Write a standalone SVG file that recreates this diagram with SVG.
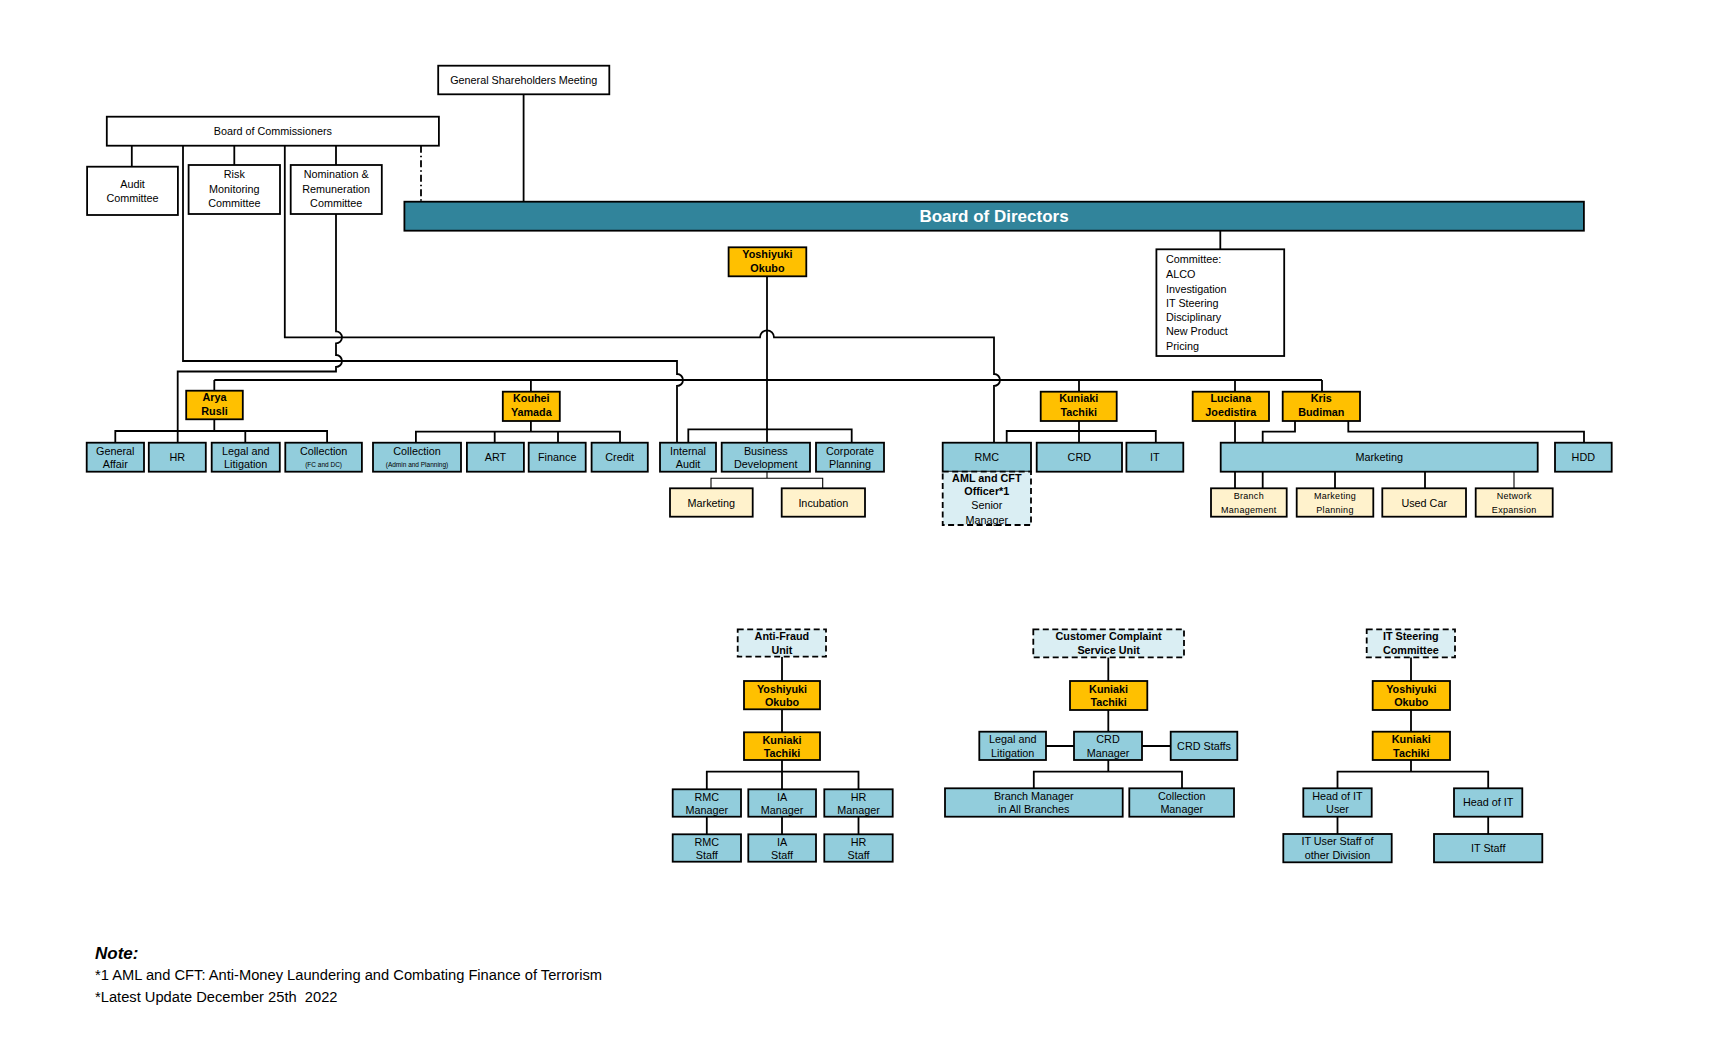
<svg xmlns="http://www.w3.org/2000/svg" width="1723" height="1039" viewBox="0 0 1723 1039">
<style>
.bx{stroke:#000;stroke-width:1.8}
.w{fill:#fff}.bl{fill:#92CDDC}.or{fill:#FFC000}.cr{fill:#FFF2CC}.bd{fill:#31849B}
.ds{fill:#DAEEF3;stroke-dasharray:6 3.5}
text{font-family:"Liberation Sans",Arial,sans-serif;font-size:10.8px;fill:#000;text-anchor:middle}
.b{font-weight:bold}
.s{font-size:9px;letter-spacing:0.3px}
.xs{font-size:6.5px}
.l{text-anchor:start}
.c path{fill:none;stroke:#000;stroke-width:1.8}
.c path.th{stroke-width:1.1}
</style>
<rect width="1723" height="1039" fill="#fff"/>

<g class="c" id="connectors">
<path d="M131.8,145.7V166.7M234.3,145.7V165M336,145.7V165"/>
<path d="M421,145.7V201.7" stroke-dasharray="7 3 1.5 3"/>
<path d="M523.6,94.3V201.7"/>
<path d="M183,145.7V361H677V374A6,6 0 0 1 677,386V442.7"/>
<path d="M284.8,145.7V337.3H760A7,7 0 0 1 774,337.3H994V374A6,6 0 0 1 994,386V442.7"/>
<path d="M336,214V331.3A6,6 0 0 1 336,343.3V355A6,6 0 0 1 336,367V371.5H177.7V442.7"/>
<path d="M214.3,380H1322"/>
<path d="M214.3,380V390.7M530.9,380V391.7M1079,380V391.7M1235,380V391.7M1322,380V391.7"/>
<path d="M767,276.3V442.7"/>
<path d="M1220.3,230.7V249.3"/>
<path d="M214.3,419.3V431M115.3,442.7V431H327.1V442.7M245.3,431V442.7"/>
<path d="M530.9,421V431.7M415.9,442.7V431.7H620V442.7M494.7,431.7V442.7M558,431.7V442.7"/>
<path d="M688.3,442.7V429.3H851.7V442.7"/>
<path class="th" d="M767,471.7V478.3M711,488.3V478.3H822.7V488.3"/>
<path d="M1079,421V442.7M1006.7,442.7V431H1155.8V442.7"/>
<path d="M1235,421V442.7"/>
<path d="M1295,421V431.7H1262.7V442.7M1348.3,421V431.7H1584V442.7"/>
<path d="M1235,471.7V488.3M1262.7,471.7V488.3M1335,471.7V488.3M1425,471.7V488.3"/>
<path class="th" d="M1514,471.7V488.3"/>
<path d="M782,656.7V681M782,709.3V732.3M782,760V789.3M706.8,789.3V771.7H858.5V789.3M706.8,816.7V834.3M782,816.7V834.3M858.5,816.7V834.3"/>
<path d="M1108.3,657.3V681M1108.3,710V731.7M1046,746H1074M1142,746H1170.7M1108.3,760V771.7M1033.8,788.3V771.7H1182V788.3"/>
<path d="M1411,657.3V681M1411,710V731.7M1411,760V771.7M1337.5,788.3V771.7H1488.2V788.3M1337.5,816.7V834M1488.2,816.7V834"/>
</g>

<g id="gsm"><rect class="bx w" x="438.2" y="65.7" width="171.1" height="28.6"/><text x="523.7" y="84">General Shareholders Meeting</text></g>
<g id="boc"><rect class="bx w" x="106.8" y="116.7" width="332.1" height="29"/><text x="272.8" y="135">Board of Commissioners</text></g>
<g id="audit"><rect class="bx w" x="87.1" y="166.7" width="90.8" height="48.3"/><text x="132.5" y="187.5">Audit</text><text x="132.5" y="201.8">Committee</text></g>
<g id="risk"><rect class="bx w" x="188.6" y="165" width="91.4" height="49"/><text x="234.3" y="177.6">Risk</text><text x="234.3" y="193">Monitoring</text><text x="234.3" y="207.3">Committee</text></g>
<g id="nom"><rect class="bx w" x="290.7" y="165" width="91.1" height="49"/><text x="336.2" y="177.6">Nomination &amp;</text><text x="336.2" y="193">Remuneration</text><text x="336.2" y="207.3">Committee</text></g>
<g id="bod"><rect class="bx bd" x="404.4" y="201.7" width="1179.5" height="29"/><text x="994" y="221.8" class="b" style="font-size:17px;fill:#fff">Board of Directors</text></g>
<g id="committee"><rect class="bx w" x="1156.4" y="249.3" width="127.8" height="106.7"/>
<text class="l" x="1166" y="263.3">Committee:</text><text class="l" x="1166" y="278.3">ALCO</text><text class="l" x="1166" y="292.7">Investigation</text><text class="l" x="1166" y="306.7">IT Steering</text><text class="l" x="1166" y="321">Disciplinary</text><text class="l" x="1166" y="335">New Product</text><text class="l" x="1166" y="349.7">Pricing</text></g>
<g id="okubo"><rect class="bx or" x="728.6" y="247.3" width="77.7" height="29"/><text class="b" x="767.4" y="258">Yoshiyuki</text><text class="b" x="767.4" y="272">Okubo</text></g>

<g id="arya"><rect class="bx or" x="186.2" y="390.7" width="56.6" height="28.6"/><text class="b" x="214.5" y="401">Arya</text><text class="b" x="214.5" y="415">Rusli</text></g>
<g id="kouhei"><rect class="bx or" x="502.8" y="391.7" width="57" height="29.3"/><text class="b" x="531.3" y="402">Kouhei</text><text class="b" x="531.3" y="416">Yamada</text></g>
<g id="kuniaki"><rect class="bx or" x="1040.7" y="391.7" width="76" height="29.3"/><text class="b" x="1078.7" y="402">Kuniaki</text><text class="b" x="1078.7" y="416">Tachiki</text></g>
<g id="luciana"><rect class="bx or" x="1192.7" y="391.7" width="76.3" height="29.3"/><text class="b" x="1230.8" y="402">Luciana</text><text class="b" x="1230.8" y="416">Joedistira</text></g>
<g id="kris"><rect class="bx or" x="1282.7" y="391.7" width="77.3" height="29.3"/><text class="b" x="1321.3" y="402">Kris</text><text class="b" x="1321.3" y="416">Budiman</text></g>

<g id="ga"><rect class="bx bl" x="86.7" y="442.7" width="57.3" height="29"/><text x="115.3" y="454.5">General</text><text x="115.3" y="467.7">Affair</text></g>
<g id="hr"><rect class="bx bl" x="148.8" y="442.7" width="57" height="29"/><text x="177.3" y="461">HR</text></g>
<g id="legal"><rect class="bx bl" x="211.7" y="442.7" width="68.1" height="29"/><text x="245.7" y="454.5">Legal and</text><text x="245.7" y="467.7">Litigation</text></g>
<g id="colfc"><rect class="bx bl" x="285.3" y="442.7" width="76.6" height="29"/><text x="323.6" y="454.5">Collection</text><text class="xs" x="323.6" y="467">(FC and DC)</text></g>
<g id="colap"><rect class="bx bl" x="373" y="442.7" width="88" height="29"/><text x="417" y="454.5">Collection</text><text class="xs" x="417" y="467">(Admin and Planning)</text></g>
<g id="art"><rect class="bx bl" x="466.9" y="442.7" width="57" height="29"/><text x="495.4" y="461">ART</text></g>
<g id="finance"><rect class="bx bl" x="528.7" y="442.7" width="57" height="29"/><text x="557.2" y="461">Finance</text></g>
<g id="credit"><rect class="bx bl" x="591.6" y="442.7" width="56.2" height="29"/><text x="619.7" y="461">Credit</text></g>
<g id="ia"><rect class="bx bl" x="660" y="442.7" width="56" height="29"/><text x="688" y="454.5">Internal</text><text x="688" y="467.7">Audit</text></g>
<g id="bizdev"><rect class="bx bl" x="721.7" y="442.7" width="88.3" height="29"/><text x="765.8" y="454.5">Business</text><text x="765.8" y="467.7">Development</text></g>
<g id="corp"><rect class="bx bl" x="816" y="442.7" width="68" height="29"/><text x="850" y="454.5">Corporate</text><text x="850" y="467.7">Planning</text></g>
<g id="rmc"><rect class="bx bl" x="942.7" y="442.7" width="88.3" height="29"/><text x="986.8" y="461">RMC</text></g>
<g id="aml"><rect class="bx ds" x="942.7" y="471.7" width="88.3" height="53.3"/><text class="b" x="986.8" y="481.7">AML and CFT</text><text class="b" x="986.8" y="495">Officer*1</text><text x="986.8" y="509.3">Senior</text><text x="986.8" y="524">Manager</text></g>
<g id="crd"><rect class="bx bl" x="1036.7" y="442.7" width="85.3" height="29"/><text x="1079.3" y="461">CRD</text></g>
<g id="it"><rect class="bx bl" x="1126.4" y="442.7" width="56.9" height="29"/><text x="1154.8" y="461">IT</text></g>
<g id="mkt"><rect class="bx bl" x="1220.7" y="442.7" width="317" height="29"/><text x="1379.2" y="461">Marketing</text></g>
<g id="hdd"><rect class="bx bl" x="1555" y="442.7" width="56.7" height="29"/><text x="1583.3" y="461">HDD</text></g>

<g id="bdmkt"><rect class="bx cr" x="670" y="488.3" width="82.7" height="28.4"/><text x="711.3" y="506.5">Marketing</text></g>
<g id="incub"><rect class="bx cr" x="781.7" y="488.3" width="83.3" height="28.4"/><text x="823.3" y="506.5">Incubation</text></g>
<g id="branch"><rect class="bx cr" x="1211" y="488.3" width="75.7" height="28.4"/><text class="s" x="1248.8" y="499">Branch</text><text class="s" x="1248.8" y="513.3">Management</text></g>
<g id="mktplan"><rect class="bx cr" x="1296.7" y="488.3" width="76.6" height="28.4"/><text class="s" x="1335" y="499">Marketing</text><text class="s" x="1335" y="513.3">Planning</text></g>
<g id="usedcar"><rect class="bx cr" x="1382.3" y="488.3" width="83.7" height="28.4"/><text x="1424.2" y="506.5">Used Car</text></g>
<g id="netexp"><rect class="bx cr" x="1475.7" y="488.3" width="77" height="28.4"/><text class="s" x="1514.2" y="499">Network</text><text class="s" x="1514.2" y="513.3">Expansion</text></g>

<g id="af-unit"><rect class="bx ds" x="737.7" y="629.3" width="88.3" height="27.4"/><text class="b" x="781.9" y="640">Anti-Fraud</text><text class="b" x="781.9" y="654">Unit</text></g>
<g id="af-okubo"><rect class="bx or" x="744" y="681" width="76" height="28.3"/><text class="b" x="782" y="692.5">Yoshiyuki</text><text class="b" x="782" y="706.3">Okubo</text></g>
<g id="af-kuniaki"><rect class="bx or" x="744" y="732.3" width="76" height="27.7"/><text class="b" x="782" y="743.5">Kuniaki</text><text class="b" x="782" y="757.3">Tachiki</text></g>
<g id="af-rmcm"><rect class="bx bl" x="672.7" y="789.3" width="68.3" height="27.4"/><text x="706.8" y="800.5">RMC</text><text x="706.8" y="814">Manager</text></g>
<g id="af-iam"><rect class="bx bl" x="748.3" y="789.3" width="67.7" height="27.4"/><text x="782.1" y="800.5">IA</text><text x="782.1" y="814">Manager</text></g>
<g id="af-hrm"><rect class="bx bl" x="824.3" y="789.3" width="68.4" height="27.4"/><text x="858.5" y="800.5">HR</text><text x="858.5" y="814">Manager</text></g>
<g id="af-rmcs"><rect class="bx bl" x="672.7" y="834.3" width="68.3" height="27.4"/><text x="706.8" y="845.5">RMC</text><text x="706.8" y="859">Staff</text></g>
<g id="af-ias"><rect class="bx bl" x="748.3" y="834.3" width="67.7" height="27.4"/><text x="782.1" y="845.5">IA</text><text x="782.1" y="859">Staff</text></g>
<g id="af-hrs"><rect class="bx bl" x="824.3" y="834.3" width="68.4" height="27.4"/><text x="858.5" y="845.5">HR</text><text x="858.5" y="859">Staff</text></g>

<g id="cc-unit"><rect class="bx ds" x="1033.3" y="629.3" width="150.7" height="28"/><text class="b" x="1108.6" y="640">Customer Complaint</text><text class="b" x="1108.6" y="654">Service Unit</text></g>
<g id="cc-kuniaki"><rect class="bx or" x="1070" y="681" width="77.3" height="29"/><text class="b" x="1108.6" y="692.5">Kuniaki</text><text class="b" x="1108.6" y="706.3">Tachiki</text></g>
<g id="cc-legal"><rect class="bx bl" x="979.3" y="731.7" width="66.7" height="28.3"/><text x="1012.7" y="743">Legal and</text><text x="1012.7" y="757">Litigation</text></g>
<g id="cc-crdm"><rect class="bx bl" x="1074" y="731.7" width="68" height="28.3"/><text x="1108" y="743">CRD</text><text x="1108" y="757">Manager</text></g>
<g id="cc-crds"><rect class="bx bl" x="1170.7" y="731.7" width="66.6" height="28.3"/><text x="1204" y="750">CRD Staffs</text></g>
<g id="cc-branch"><rect class="bx bl" x="945" y="788.3" width="177.7" height="28.4"/><text x="1033.8" y="799.5">Branch Manager</text><text x="1033.8" y="813.3">in All Branches</text></g>
<g id="cc-col"><rect class="bx bl" x="1129.3" y="788.3" width="104.7" height="28.4"/><text x="1181.7" y="799.5">Collection</text><text x="1181.7" y="813.3">Manager</text></g>

<g id="it-unit"><rect class="bx ds" x="1366.7" y="629.3" width="88.3" height="28"/><text class="b" x="1410.8" y="640">IT Steering</text><text class="b" x="1410.8" y="654">Committee</text></g>
<g id="it-okubo"><rect class="bx or" x="1372.7" y="681" width="77.3" height="29"/><text class="b" x="1411.3" y="692.5">Yoshiyuki</text><text class="b" x="1411.3" y="706.3">Okubo</text></g>
<g id="it-kuniaki"><rect class="bx or" x="1372.7" y="731.7" width="77.3" height="28.3"/><text class="b" x="1411.3" y="743">Kuniaki</text><text class="b" x="1411.3" y="757">Tachiki</text></g>
<g id="it-headuser"><rect class="bx bl" x="1303.3" y="788.3" width="68.4" height="28.4"/><text x="1337.5" y="799.5">Head of IT</text><text x="1337.5" y="813.3">User</text></g>
<g id="it-head"><rect class="bx bl" x="1454" y="788.3" width="68.3" height="28.4"/><text x="1488.2" y="806.3">Head of IT</text></g>
<g id="it-userstaff"><rect class="bx bl" x="1283.3" y="834" width="108.4" height="28.3"/><text x="1337.5" y="845.3">IT User Staff of</text><text x="1337.5" y="859">other Division</text></g>
<g id="it-staff"><rect class="bx bl" x="1434" y="834" width="108.3" height="28.3"/><text x="1488.2" y="852">IT Staff</text></g>

<g id="note">
<text class="l b" x="95" y="959" style="font-size:17px;font-style:italic">Note:</text>
<text class="l" x="95" y="979.5" style="font-size:14.7px">*1 AML and CFT: Anti-Money Laundering and Combating Finance of Terrorism</text>
<text class="l" x="95" y="1002" style="font-size:14.7px;white-space:pre">*Latest Update December 25th  2022</text>
</g>
</svg>
